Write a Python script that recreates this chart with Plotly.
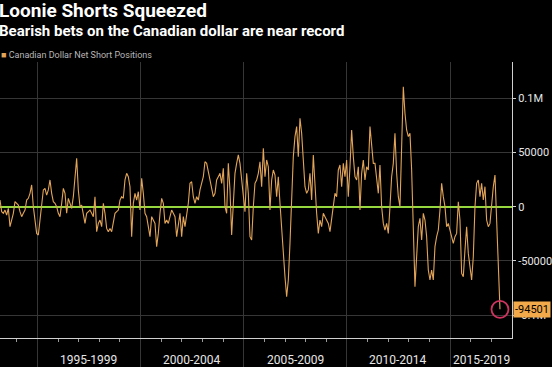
import pandas as pd
import plotly.graph_objects as go

# CFTC Canadian dollar net (speculative) positions, thousands of contracts
net_short_k = [
    6.1, -4.6, -6.1, -3.1, -7.7, -1.5, -18.4, -12.3, -6.1, 4.6,
    3.1, 1.5, -4.6, -9.2, -6.1, -3.1, 6.1, 7.7, 12.3, 20.0,
    0, -12.3, -24.6, -26.1, -12.3, 6.1, 15.4, 16.9, 10.7, 15.4,
    24.6, 12.3, 4.6, 3.1, 0, -6.1, -9.2, 3.1, 16.9, 12.3,
    -6.1, 7.7, 3.1, -1.5, 9.2, 24.6, 44.5, 15.4, 0, 1.5,
    -9.2, -15.4, -6.1, -4.6, -3.1, -6.1, -9.2, 9.2, -23.0, -15.4,
    -12.3, -18.4, 3.1, -6.1, -20.0, -23.0, -20.0, -23.0, -12.3, -6.1,
    -4.6, -3.1, 6.1, 9.2, 7.7,
    24.6, 30.7, 27.6, 18.4, -27.6, 3.1, 12.3, 6.1, 13.8, -3.1,
    26.1, 12.3, -6.1, -9.2, -18.4, -27.6, -9.2, -12.3, -15.4, -36.8,
    -24.6, -6.1, 7.7, 3.1, -15.4, -12.3, -15.4, -9.2, -3.1, -6.1,
    -9.2, -27.6, -18.4, -6.1, -27.6, -9.2, -18.4, -6.1, 3.1, 21.5,
    23.0, 9.2, 3.1, 9.2, 6.1, 15.4, 21.5, 27.6, 41.4, 39.9,
    32.2, 24.6, 15.4, 9.2, 12.3, 24.6, 27.6, 30.7, 21.5, 35.3,
    0, -6.1, 39.9, 15.4, -26.1, 6.1, 30.7, 39.9, 47.6, 39.9,
    24.6, 6.1, -4.6, 30.7, 12.3,
    -27.6, -30.7, 0, 21.5, 24.6, 30.7, 41.4, 18.4, 53.7, 27.6,
    43.0, 36.8, -3.1, 24.6, 33.8, 29.1, 9.2, 27.6, 3.1, -21.5,
    -43.0, -64.5, -82.9, -67.5, -33.8, 0, 46.1, 64.5, 73.7, 46.1,
    81.4, 67.5, 36.8, 18.4, 12.3, 15.4, 30.7, 6.1, 47.6, 18.4,
    -6.1, -24.6, -12.3, -18.4, -6.1, -9.2, -12.3, -15.4, -23.0, -12.3,
    3.1, 12.3, 9.2, 33.8, 38.4, 18.4, 39.9, 27.6, 43.0, 9.2,
    36.8, 70.6, 46.1, 27.6, 24.6, 36.8, -3.1, 30.7, 43.0, 24.6,
    36.8, 33.8, 73.7, 55.3, 39.9,
    39.9, 24.6, 12.3, 38.4, 0, -15.4, -21.5, -15.4, -24.6, 0,
    27.6, 39.9, 67.5, 30.7, 9.2, 0, 61.4, 110.5, 86.0, 70.6,
    64.5, 67.5, 33.8, -24.6, -73.7, -46.1, -18.4, -10.7, -30.7, -6.1,
    -12.3, -27.6, -58.3, -67.5, -58.3, -67.5, -36.8, -27.6, -21.5, -3.1,
    21.5, 9.2, 0, -18.4, -15.4, -21.5, -27.6, -33.8, -27.6, -24.6,
    4.6, -12.3, -61.4, -64.5, -40.0, -18.4, -43.0, -55.3, -67.5, -46.1,
    0, 21.5, 24.6, 9.2, 21.5, 6.1, 18.4, -12.3, -18.4, -15.4,
    3.1, 18.4, 29.1, -12.3, -36.8, -94.501,
]
start_date = "1993-03-10"
end_date = "2017-06-02"

y_tickvals = [-100000, -50000, 0, 50000, 100000]
y_ticktext = ["-0.1M", "-50000", "0", "50000", "0.1M"]

year_ticks = [f"{y}-01-01" for y in range(1994, 2018)]
period_bounds = ["1995-01-01", "2000-01-01", "2005-01-01", "2010-01-01", "2015-01-01"]
period_label_pos = ["1997-07-01", "2002-07-01", "2007-07-01", "2012-07-01", "2016-07-15"]
period_labels = ["1995-1999", "2000-2004", "2005-2009", "2010-2014", "2015-2019"]

title = "Loonie Shorts Squeezed"
subtitle = "Bearish bets on the Canadian dollar are near record"
series_name = "Canadian Dollar Net Short Positions"

dates = pd.date_range(start_date, end_date, periods=len(net_short_k))
values = [v * 1000 for v in net_short_k]
last_val = values[-1]

LINE = "#e2a458"
GREEN = "#96d63e"
GRID = "#363636"
TXT = "#e6e6e6"

fig = go.Figure()
fig.add_trace(go.Scatter(x=dates, y=values, mode="lines",
                         line=dict(color=LINE, width=1.1), name=series_name,
                         showlegend=False, hoverinfo="x+y"))
fig.add_trace(go.Scatter(x=[dates[-1]], y=[last_val], mode="markers",
                         marker=dict(symbol="circle-open", size=17,
                                     color="#cf3460", line=dict(width=1.8, color="#cf3460")),
                         showlegend=False, hoverinfo="skip"))

fig.update_layout(
    width=552, height=367,
    margin=dict(l=0, r=40, t=62, b=29, autoexpand=False),
    paper_bgcolor="black", plot_bgcolor="black",
    font=dict(family="Roboto, 'Liberation Sans', sans-serif", color=TXT, size=12),
    xaxis=dict(
        type="date", range=["1993-03-10", "2018-01-01"], automargin=False,
        tickmode="array", tickvals=period_bounds, showticklabels=False,
        ticks="outside", ticklen=29, tickcolor=GRID, tickwidth=1,
        showgrid=True, gridcolor=GRID, gridwidth=1,
        showline=True, linecolor="#d0d0d0", linewidth=1,
        minor=dict(tickmode="array", tickvals=year_ticks, showgrid=False,
                   ticks="outside", ticklen=3, tickcolor="#9a9a9a", tickwidth=1),
        zeroline=False, fixedrange=True,
    ),
    yaxis=dict(
        side="right", range=[-120900, 133200], automargin=False,
        tickmode="array", tickvals=y_tickvals, ticktext=y_ticktext,
        showgrid=True, gridcolor=GRID, gridwidth=1,
        zeroline=True, zerolinecolor=GREEN, zerolinewidth=2,
        showline=True, linecolor="#d0d0d0", linewidth=1,
        ticks="outside", ticklen=3, tickcolor="#d0d0d0",
        tickfont=dict(size=11, color=TXT),
    ),
)

for pos, lab in zip(period_label_pos, period_labels):
    fig.add_annotation(text=lab, xref="x", yref="paper", x=pos, y=0,
                       yanchor="middle", yshift=-21.5, showarrow=False,
                       font=dict(size=12, color=TXT))

fig.add_annotation(text="<b>" + title + "</b>", xref="paper", yref="paper",
                   x=0, y=1, xanchor="left", yanchor="top",
                   yshift=65, xshift=-3, showarrow=False,
                   font=dict(size=19, color="white"))
fig.add_annotation(text="<b>" + subtitle + "</b>", xref="paper", yref="paper",
                   x=0, y=1, xanchor="left", yanchor="top",
                   yshift=42, xshift=-3, showarrow=False,
                   font=dict(size=15, color="white"))
fig.add_annotation(text="<span style='color:%s'>■</span> %s" % (LINE, series_name),
                   xref="paper", yref="paper", x=0, y=1, xanchor="left", yanchor="top",
                   yshift=14, xshift=-1, showarrow=False,
                   font=dict(size=9, color="#b8b8b8"))
fig.add_annotation(text=f"{last_val:.0f}", xref="paper", yref="y",
                   x=1, y=last_val, xanchor="left", yanchor="middle", xshift=1,
                   showarrow=False, bgcolor="#f2a94a", borderpad=1,
                   font=dict(size=11, color="black"))

fig.write_html("out.html", config={"displayModeBar": False},
               post_script="document.body.style.margin='0';document.body.style.padding='0';")
